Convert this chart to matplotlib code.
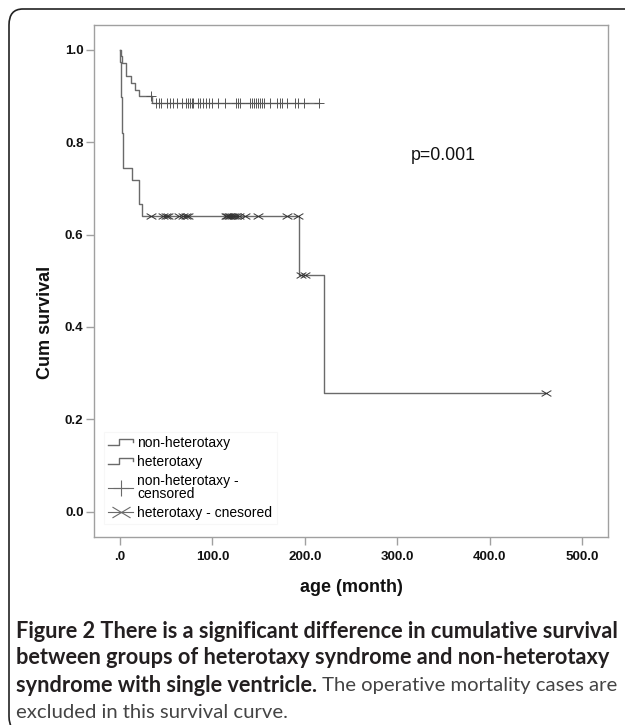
import numpy as np
import matplotlib
matplotlib.use('Agg')
import matplotlib.pyplot as plt
from matplotlib.lines import Line2D
from matplotlib.legend_handler import HandlerBase
from matplotlib.patches import FancyBboxPatch
from matplotlib.path import Path

# Kaplan-Meier steps (months, cum survival)
nonhet_t = [0, 1, 2.5, 6.5, 12, 16, 20.5, 34.5, 215.1]
nonhet_s = [1.0, 0.986, 0.971, 0.943, 0.929, 0.914, 0.900, 0.886, 0.886]
nonhet_cens = [33.5, 38.9, 41.8, 44.3, 51.2, 54.1, 57.7, 62.0, 66.7, 71.4, 73.9, 75.7,
               77.8, 79.6, 85.0, 87.2, 89.4, 93.0, 96.6, 99.5, 106.3, 113.9, 126.1,
               127.9, 130.4, 140.5, 143.4, 145.6, 147.7, 149.5, 151.4, 153.2, 155.7,
               162.9, 170.1, 173.0, 175.9, 180.9, 189.2, 192.8, 198.9, 215.1]

het_t = [0, 0.5, 0.8, 1.2, 1.6, 2.0, 2.3, 2.6, 2.9, 3.2, 3.5, 12.6, 20.9, 23.4, 194, 221, 461]
het_s = [1.0, 0.974, 0.949, 0.923, 0.897, 0.872, 0.846, 0.821, 0.795, 0.769, 0.744,
         0.718, 0.667, 0.641, 0.513, 0.256, 0.256]
het_cens = [33.2, 46.8, 49.7, 52.3, 64.1, 68.5, 71.4, 73.9, 114.6, 116.0, 117.8, 119.6,
             121.4, 123.2, 126.1, 129.0, 135.1, 149.5, 180.9, 192.5, 196.4, 200.0, 461]

labels = ['non-heterotaxy', 'heterotaxy', 'non-heterotaxy -\ncensored', 'heterotaxy - cnesored']
xticks = [0, 100, 200, 300, 400, 500]
xticklabels = ['.0', '100.0', '200.0', '300.0', '400.0', '500.0']
yticks = [0.0, 0.2, 0.4, 0.6, 0.8, 1.0]
yticklabels = ['0.0', '0.2', '0.4', '0.6', '0.8', '1.0']


def surv_at(ts, ss, t):
    idx = np.searchsorted(ts, t, side='right') - 1
    return np.array(ss)[idx]


# flattened X for the heterotaxy censor mark
xmark = Path([(-1, -0.6), (1, 0.6), (-1, 0.6), (1, -0.6)],
             [Path.MOVETO, Path.LINETO, Path.MOVETO, Path.LINETO])


class StepHandler(HandlerBase):
    def create_artists(self, legend, orig_handle, xdescent, ydescent, width, height, fontsize, trans):
        x0 = -xdescent
        y0 = -ydescent
        xs = [x0, x0 + 0.45 * width, x0 + 0.45 * width, x0 + width, x0 + width]
        ys = [y0 + 0.2 * height, y0 + 0.2 * height, y0 + 0.85 * height, y0 + 0.85 * height, y0 + 0.5 * height]
        ln = Line2D(xs, ys, color=orig_handle.get_color(), lw=orig_handle.get_linewidth())
        ln.set_transform(trans)
        return [ln]


plt.rcParams['font.family'] = ['Liberation Sans', 'DejaVu Sans']

W, H = 625, 725
fig = plt.figure(figsize=(W / 100, H / 100), dpi=100)
ax = fig.add_axes([94 / W, 1 - 537 / H, (608 - 94) / W, (537 - 25) / H])

lc = '#6a6a6a'
ax.step(nonhet_t, nonhet_s, where='post', color=lc, lw=1.0)
ax.step(het_t, het_s, where='post', color=lc, lw=1.0)
ax.plot(nonhet_cens, surv_at(nonhet_t, nonhet_s, nonhet_cens), ls='none', marker='+',
        ms=7, mew=0.7, color='#555555')
ax.plot(het_cens, surv_at(het_t, het_s, het_cens), ls='none', marker=xmark,
        ms=7, mew=0.7, color='#333333')

ax.text(350, 0.772, 'p=0.001', fontsize=12.8, ha='center', va='center', color='#111111')

ax.set_xlim(-28, 528)
ax.set_ylim(-0.055, 1.054)
ax.set_xticks(xticks)
ax.set_xticklabels(xticklabels)
ax.set_yticks(yticks)
ax.set_yticklabels(yticklabels)
for sp in ax.spines.values():
    sp.set_color('#a0a0a0')
    sp.set_linewidth(1.0)
ax.tick_params(axis='both', colors='#a0a0a0', length=6, width=1.0, labelcolor='#111111',
               labelsize=9.6)
ax.tick_params(axis='x', pad=4)
ax.tick_params(axis='y', pad=1.5)
for lab in ax.get_xticklabels() + ax.get_yticklabels():
    lab.set_fontweight('bold')

fig.text(351 / W, 1 - 588 / H, 'age (month)', fontsize=13, fontweight='bold',
         ha='center', va='center', color='#111111')
fig.text(46 / W, 1 - 322 / H, 'Cum survival', fontsize=13, fontweight='bold',
         ha='center', va='center', rotation=90, color='#111111')

h1 = Line2D([], [], color=lc, lw=1.0)
h2 = Line2D([], [], color=lc, lw=1.0)
h3 = Line2D([], [], color=lc, lw=0.8, marker='+', ms=11, mew=0.8)
h4 = Line2D([], [], color=lc, lw=0.8, marker=xmark, ms=13, mew=0.8)
leg = ax.legend([h1, h2, h3, h4], labels, loc='upper left',
                bbox_to_anchor=(104 / W, 1 - 432 / H), bbox_transform=fig.transFigure,
                borderaxespad=0, fontsize=10, handlelength=1.8, handletextpad=0.3,
                labelspacing=0.34, borderpad=0.3, frameon=True, fancybox=False,
                handler_map={h1: StepHandler(), h2: StepHandler()})
leg.get_frame().set_edgecolor('#f6f6f6')
leg.get_frame().set_linewidth(0.8)
leg.get_texts()[2].set_linespacing(0.95)

# rounded outer border
fig.patches.append(FancyBboxPatch((9 / W, -0.01), 1.1, 1 - 9 / H + 0.01,
                                  boxstyle='round,pad=0,rounding_size=0.022',
                                  transform=fig.transFigure, fill=False,
                                  edgecolor='#222222', lw=1.2, figure=fig))

# caption
cap_font = ['Lato', 'DejaVu Sans']
bold_lines = ['Figure 2 There is a significant difference in cumulative survival',
              'between groups of heterotaxy syndrome and non-heterotaxy',
              'syndrome with single ventricle.']
plain_3 = ' The operative mortality cases are'
plain_4 = 'excluded in this survival curve.'
line_y = [632, 658, 685, 712]

renderer = fig.canvas.get_renderer()
probe = fig.text(0, 0, bold_lines[0], family=cap_font, fontweight='bold', fontsize=13)
wpx = probe.get_window_extent(renderer).width
probe.remove()
cap_fs = 13 * 601 / wpx

x0 = 16 / W
for i, s in enumerate(bold_lines):
    t = fig.text(x0, 1 - line_y[i] / H, s, family=cap_font, fontweight='bold',
                 fontsize=cap_fs, ha='left', va='center', color='#231f20')
bb = t.get_window_extent(renderer)

# the plain part is set in a lighter, narrower face: fit it to the line end
probe = fig.text(0, 0, plain_3, family=cap_font, fontsize=13)
wplain = probe.get_window_extent(renderer).width
probe.remove()
plain_fs = 13 * (617 - bb.x1) / wplain

fig.text(bb.x1 / W, 1 - line_y[2] / H, plain_3, family=cap_font, fontsize=plain_fs,
         ha='left', va='center', color='#444444')
fig.text(x0, 1 - line_y[3] / H, plain_4, family=cap_font, fontsize=plain_fs,
         ha='left', va='center', color='#444444')

fig.savefig('out.png', dpi=100)
